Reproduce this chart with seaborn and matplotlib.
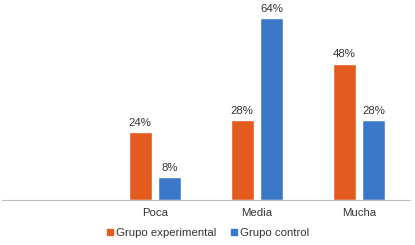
import matplotlib
matplotlib.use("Agg")
import matplotlib.pyplot as plt
import pandas as pd
import seaborn as sns

categorias = ["", "Poca", "Media", "Mucha"]
niveles = ["Poca", "Media", "Mucha"]
experimental = [24, 28, 48]
control = [8, 64, 28]
grupos = ["Grupo experimental", "Grupo control"]
colores = ["#E35B1E", "#3B78C8"]

df = pd.DataFrame({
    "nivel": niveles * 2,
    "valor": experimental + control,
    "grupo": [grupos[0]] * 3 + [grupos[1]] * 3,
})

sns.set_style("white")
plt.rcParams["font.family"] = ["Liberation Sans", "DejaVu Sans"]

fig = plt.figure(figsize=(4.15, 2.45), dpi=100)
ax = fig.add_axes([2 / 415, 45 / 245, 408 / 415, 199 / 245])

sns.barplot(data=df, x="nivel", y="valor", hue="grupo", order=categorias,
            hue_order=grupos, palette=colores, width=0.58, gap=0.22,
            saturation=1, ax=ax, legend=False)

for c in ax.containers:
    ax.bar_label(c, fmt="%d%%", padding=3, fontsize=8.2, color="#333333")

ax.set_xlim(-0.5, 3.5)
ax.set_ylim(0, 70)
ax.set_xlabel("")
ax.set_ylabel("")
ax.set_yticks([])
ax.tick_params(axis="x", length=0, pad=6, labelsize=8.2, colors="#333333")
for s in ["top", "left", "right"]:
    ax.spines[s].set_visible(False)
ax.spines["bottom"].set_color("#BFBFBF")
ax.spines["bottom"].set_linewidth(0.8)

handles = [plt.Line2D([], [], marker="s", linestyle="", markersize=5,
                      color=col) for col in colores]
fig.legend(handles, grupos, loc="lower center", bbox_to_anchor=(0.5, -0.015),
           ncol=2, frameon=False, fontsize=8.2, handletextpad=0.1,
           columnspacing=1.2, labelcolor="#333333", handlelength=0.8)

fig.savefig("out.png", dpi=100)
